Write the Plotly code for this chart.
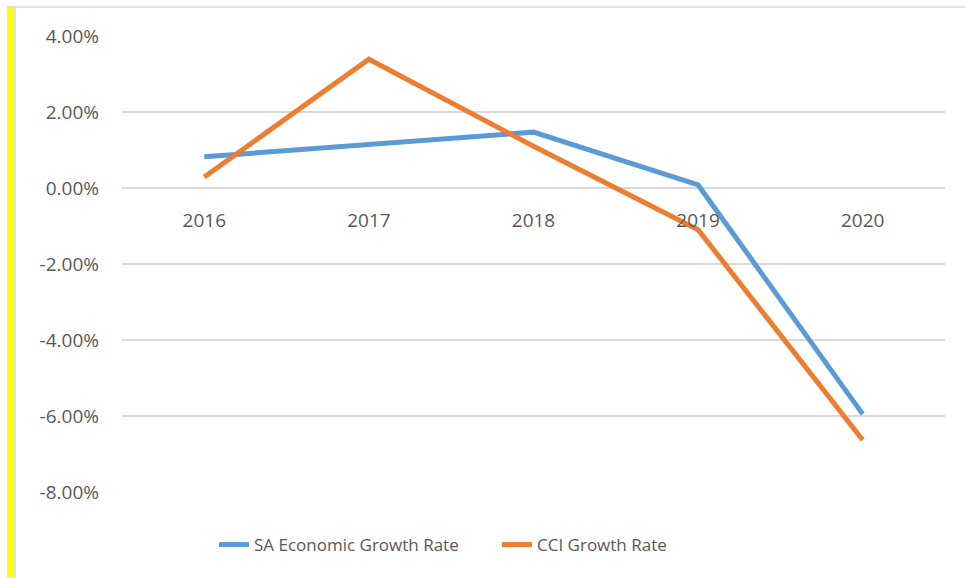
import plotly.graph_objects as go

years = ['2016', '2017', '2018', '2019', '2020']
sa_growth = [0.82, 1.14, 1.47, 0.08, -5.95]
cci_growth = [0.29, 3.39, 1.10, -1.10, -6.63]
y_ticks = [4, 2, 0, -2, -4, -6, -8]
y_tick_labels = ['%.2f%%' % v for v in y_ticks]

W, H = 965, 578
L, R, T, B = 122, 20, 36, 86
pw = W - L - R
ph = H - T - B


def px_x(x):
    return (x - L) / pw


def px_y(y):
    return (H - B - y) / ph


fig = go.Figure()
fig.add_trace(go.Scatter(x=years, y=sa_growth, mode='lines', name='SA Economic Growth Rate',
                         line=dict(color='#5B9BD5', width=5)))
fig.add_trace(go.Scatter(x=years, y=cci_growth, mode='lines', name='CCI Growth Rate',
                         line=dict(color='#ED7D31', width=5)))

fig.update_layout(
    width=W, height=H,
    margin=dict(l=L, r=R, t=T, b=B),
    paper_bgcolor='white', plot_bgcolor='white',
    font=dict(family='Open Sans', size=19, color='#595959'),
    showlegend=True,
    legend=dict(orientation='h', x=px_x(214), xanchor='left', y=px_y(545), yanchor='middle',
                font=dict(family='Open Sans', size=17, color='#595959'),
                entrywidth=238, entrywidthmode='pixels', tracegroupgap=0),
    xaxis=dict(type='category', range=[-0.5, 4.5], anchor='free', position=px_y(188),
               showgrid=False, showline=False, ticks='', ticklabelstandoff=19,
               tickfont=dict(size=19, color='#595959')),
    yaxis=dict(range=[-8, 4], tickvals=y_ticks, ticktext=y_tick_labels,
               showgrid=True, gridcolor='#D9D9D9', gridwidth=1.5, zeroline=False,
               showline=False, ticks='', ticklabelstandoff=22,
               tickfont=dict(size=19, color='#595959')),
    shapes=[
        dict(type='rect', xref='paper', yref='paper', x0=px_x(7), x1=px_x(14), y0=px_y(578), y1=px_y(7),
             fillcolor='#FFFF00', line=dict(width=0), layer='above'),
        dict(type='line', xref='paper', yref='paper', x0=px_x(15), x1=px_x(15), y0=px_y(578), y1=px_y(7),
             line=dict(color='#D9D9D9', width=1.5)),
        dict(type='line', xref='paper', yref='paper', x0=px_x(7), x1=px_x(965), y0=px_y(7), y1=px_y(7),
             line=dict(color='#D9D9D9', width=1.5)),
    ],
)

fig.write_html('out.html', config={'displayModeBar': False},
               post_script="document.body.style.margin='0px';")
